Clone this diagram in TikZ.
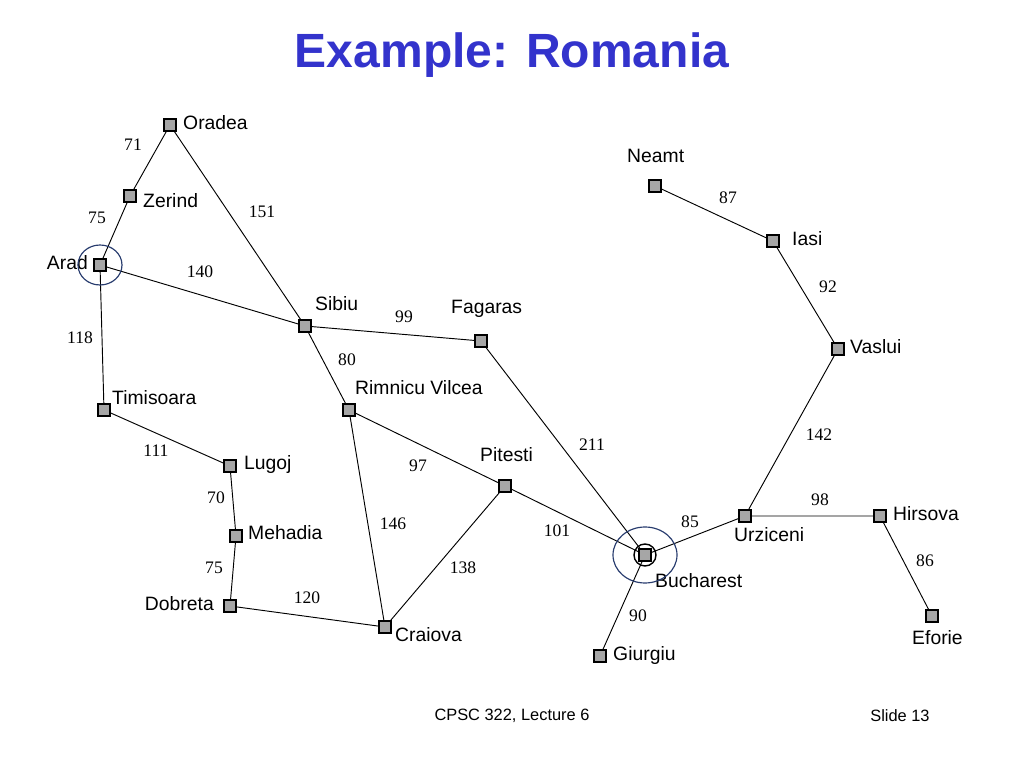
\documentclass[tikz,border=0pt]{standalone}
\usepackage{fontspec}
\setmainfont{Liberation Sans}
\newfontfamily\numfont{Liberation Serif}
\usetikzlibrary{positioning}
\definecolor{titleblue}{RGB}{51,51,204}
\definecolor{penblue}{RGB}{40,60,110}
\tikzset{
  city/.style={draw=black, line width=1.4pt, fill=black!35, minimum size=0.36cm, inner sep=0pt},
  citylabel/.style={font=\fontsize{16.5}{18}\selectfont, inner sep=0pt, anchor=west},
  dist/.style={font=\numfont\fontsize{15}{17}\selectfont, inner sep=0pt},
  road/.style={line width=0.8pt}
}
\begin{document}
\begin{tikzpicture}[x=0.03cm, y=-0.03cm]
          \useasboundingbox (0,0) rectangle (1024,768);
          \node[font=\bfseries\fontsize{41}{45}\selectfont, text=titleblue] (title) at (512,55) {Example: Romania};
          % cities
          \node[city] (Or) at (170,125) {};
          \node[city] (Ze) at (130,196) {};
          \node[city] (Ar) at (100,265) {};
          \node[city] (Ti) at (104,410) {};
          \node[city] (Lu) at (230,466) {};
          \node[city] (Me) at (236,536) {};
          \node[city] (Do) at (230,606) {};
          \node[city] (Cr) at (385,627) {};
          \node[city] (Ri) at (349,410) {};
          \node[city] (Si) at (305,326) {};
          \node[city] (Fa) at (481,341) {};
          \node[city] (Pi) at (505,486) {};
          \node[city] (Bu) at (645,555) {};
          \node[city] (Gi) at (600,656) {};
          \node[city] (Ur) at (745,516) {};
          \node[city] (Hi) at (880,516) {};
          \node[city] (Ef) at (932,616) {};
          \node[city] (Va) at (838,349) {};
          \node[city] (Ia) at (773,241) {};
          \node[city] (Ne) at (655,186) {};
          % city names
          \node[citylabel] (nOr) at (183,123) {Oradea};
          \node[citylabel] (nZe) at (143,201) {Zerind};
          \node[citylabel, anchor=east] (nAr) at (88,263) {Arad};
          \node[citylabel] (nTi) at (112,398) {Timisoara};
          \node[citylabel] (nLu) at (244,465) {Lugoj};
          \node[citylabel] (nMe) at (248,533) {Mehadia};
          \node[citylabel, anchor=east] (nDo) at (214,604) {Dobreta};
          \node[citylabel] (nCr) at (395,635) {Craiova};
          \node[citylabel] (nRi) at (355,388) {Rimnicu Vilcea};
          \node[citylabel] (nSi) at (315,304) {Sibiu};
          \node[citylabel] (nFa) at (451,309) {Fagaras};
          \node[citylabel] (nPi) at (480,455) {Pitesti};
          \node[citylabel] (nBu) at (655,581) {Bucharest};
          \node[citylabel] (nGi) at (613,656) {Giurgiu};
          \node[citylabel] (nUr) at (734,535) {Urziceni};
          \node[citylabel] (nHi) at (893,514) {Hirsova};
          \node[citylabel] (nEf) at (912,638) {Eforie};
          \node[citylabel] (nVa) at (850,347) {Vaslui};
          \node[citylabel] (nIa) at (792,239) {Iasi};
          \node[citylabel] (nNe) at (627,156) {Neamt};
          % roads
          \draw[road] (Or) -- (Ze) -- (Ar) -- (Ti) -- (Lu) -- (Me) -- (Do) -- (Cr);
          \draw[road] (Or) -- (Si) -- (Ar);
          \draw[road] (Si) -- (Fa) -- (Bu);
          \draw[road] (Si) -- (Ri) -- (Pi) -- (Bu);
          \draw[road] (Ri) -- (Cr) -- (Pi);
          \draw[road] (Bu) -- (Gi);
          \draw[road] (Bu) -- (Ur) -- (Hi) -- (Ef);
          \draw[road] (Ur) -- (Va) -- (Ia) -- (Ne);
          % distances
          \node[dist] (d71) at (133,145) {71};
          \node[dist] (d75a) at (97,218) {75};
          \node[dist] (d151) at (262,212) {151};
          \node[dist] (d140) at (200,272) {140};
          \node[dist] (d118) at (80,338) {118};
          \node[dist] (d99) at (404,317) {99};
          \node[dist] (d80) at (347,360) {80};
          \node[dist] (d211) at (592,445) {211};
          \node[dist] (d111) at (156,451) {111};
          \node[dist] (d97) at (418,466) {97};
          \node[dist] (d70) at (216,498) {70};
          \node[dist] (d146) at (393,524) {146};
          \node[dist] (d101) at (557,531) {101};
          \node[dist] (d75b) at (214,568) {75};
          \node[dist] (d138) at (463,568) {138};
          \node[dist] (d120) at (307,598) {120};
          \node[dist] (d85) at (690,522) {85};
          \node[dist] (d90) at (638,616) {90};
          \node[dist] (d142) at (819,435) {142};
          \node[dist] (d98) at (820,500) {98};
          \node[dist] (d86) at (925,561) {86};
          \node[dist] (d92) at (828,287) {92};
          \node[dist] (d87) at (728,198) {87};
          % start and goal marks
          \draw[penblue, line width=1pt] (Ar) ellipse (22 and 20);
          \draw[black, line width=1.2pt] (Bu) circle (11);
          \draw[penblue, line width=1pt] (Bu) ellipse (32 and 28);
          % footer
          \node[font=\fontsize{14}{16}\selectfont] (foot) at (512,716) {CPSC 322, Lecture 6};
          \node[font=\fontsize{14}{16}\selectfont] (slide) at (900,716) {Slide 13};
\end{tikzpicture}
\end{document}
